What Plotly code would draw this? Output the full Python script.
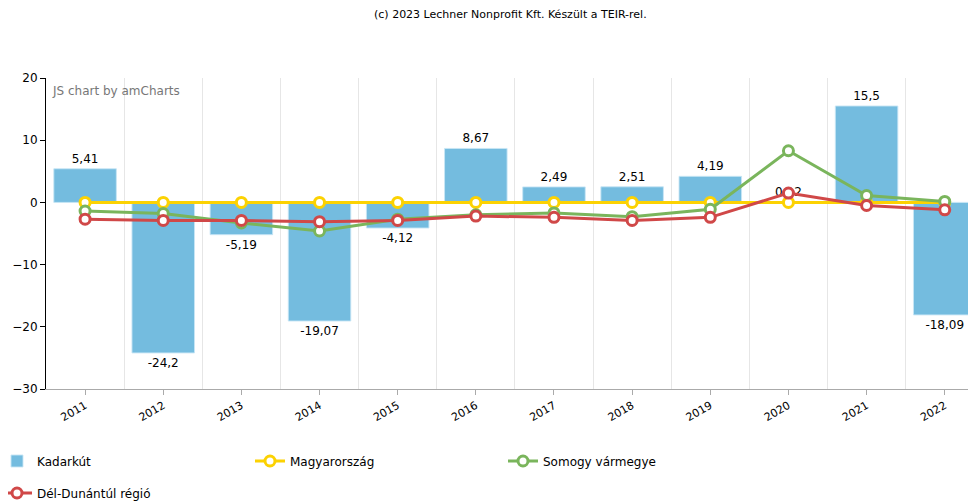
import plotly.graph_objects as go

years = ["2011", "2012", "2013", "2014", "2015", "2016", "2017", "2018", "2019", "2020", "2021", "2022"]
kadarkut = [5.41, -24.2, -5.19, -19.07, -4.12, 8.67, 2.49, 2.51, 4.19, 0.12, 15.5, -18.09]
magyarorszag = [0, 0, 0, 0, 0, 0, 0, 0, 0, 0, 0, 0]
somogy = [-1.4, -1.8, -3.3, -4.6, -2.7, -2.0, -1.7, -2.3, -1.1, 8.3, 1.1, 0.15]
del_dunantul = [-2.7, -2.9, -2.9, -3.1, -2.9, -2.2, -2.4, -2.9, -2.4, 1.5, -0.5, -1.2]
y_ticks = [-30, -20, -10, 0, 10, 20]

FONT = "DejaVu Sans"
xs = list(range(len(years)))

# page has 8px body margin; compensate
OFF = 8
PLOT_L, PLOT_T, PLOT_B = 46, 78, 389
W, H = 976 - OFF, 502 - OFF
plot_w = 976 - PLOT_L
plot_h = PLOT_B - PLOT_T

def px_x(x):
    return (x - PLOT_L) / plot_w

def px_y(y):
    return (PLOT_B - y) / plot_h

fig = go.Figure()
fig.add_trace(go.Bar(
    x=xs, y=kadarkut, name="Kadarkút",
    marker=dict(color="#74bcdf", line=dict(color="rgba(200,230,245,0.9)", width=1)),
    width=0.8,
    text=[str(v).replace(".", ",") for v in kadarkut],
    textposition="outside", cliponaxis=False,
    textfont=dict(family=FONT, size=12, color="#000000"),
    legend="legend",
))

def line_trace(vals, name, color, legend):
    return go.Scatter(
        x=xs, y=vals, name=name, mode="lines+markers",
        line=dict(color=color, width=3),
        marker=dict(symbol="circle", size=10, color="#ffffff", line=dict(color=color, width=3)),
        cliponaxis=False, legend=legend,
    )

fig.add_trace(line_trace(magyarorszag, "Magyarország", "#fcd202", "legend"))
fig.add_trace(line_trace(somogy, "Somogy vármegye", "#7ab55c", "legend"))
fig.add_trace(line_trace(del_dunantul, "Dél-Dunántúl régió", "#d04848", "legend2"))

leg_common = dict(orientation="h", xanchor="left", yanchor="middle",
                  entrywidth=208, entrywidthmode="pixels", itemwidth=30,
                  font=dict(family=FONT, size=12, color="#000000"),
                  bgcolor="rgba(0,0,0,0)")

fig.update_layout(
    width=W, height=H,
    margin=dict(l=PLOT_L - OFF, r=0, t=PLOT_T - OFF, b=H - (PLOT_B - OFF), autoexpand=False),
    paper_bgcolor="#ffffff", plot_bgcolor="#ffffff",
    font=dict(family=FONT, size=12, color="#000000"),
    showlegend=True, bargap=0.2,
    legend=dict(x=px_x(-3), y=px_y(461), **leg_common),
    legend2=dict(x=px_x(-3), y=px_y(493), **leg_common),
    annotations=[
        dict(text="(c) 2023 Lechner Nonprofit Kft. Készült a TEIR-rel.", xref="paper", yref="paper",
             x=px_x(510), y=px_y(14), showarrow=False,
             font=dict(family=FONT, size=11, color="#000000"), xanchor="center", yanchor="middle"),
        dict(text="JS chart by amCharts", xref="paper", yref="paper", x=px_x(50), y=px_y(82),
             showarrow=False, xanchor="left", yanchor="top",
             font=dict(family=FONT, size=12, color="#777777")),
    ],
)
fig.update_xaxes(
    range=[-0.5, 11.4], tickmode="array", tickvals=xs, ticktext=years, tickangle=-30,
    showgrid=False, showline=True, linecolor="#aaaaaa", linewidth=1,
    ticks="outside", ticklen=5, tickcolor="#aaaaaa",
    tickfont=dict(family=FONT, size=11, color="#000000"),
    minor=dict(tick0=0.5, dtick=1, showgrid=True, gridcolor="#e6e6e6", gridwidth=1, ticklen=0),
    zeroline=False,
)
fig.update_yaxes(
    range=[-30, 20], tickmode="array", tickvals=y_ticks, showgrid=False, zeroline=False,
    showline=True, linecolor="#000000", linewidth=1, ticks="outside", ticklen=5, tickcolor="#000000",
    tickfont=dict(family=FONT, size=12, color="#000000"),
)
fig.write_html("out.html")
